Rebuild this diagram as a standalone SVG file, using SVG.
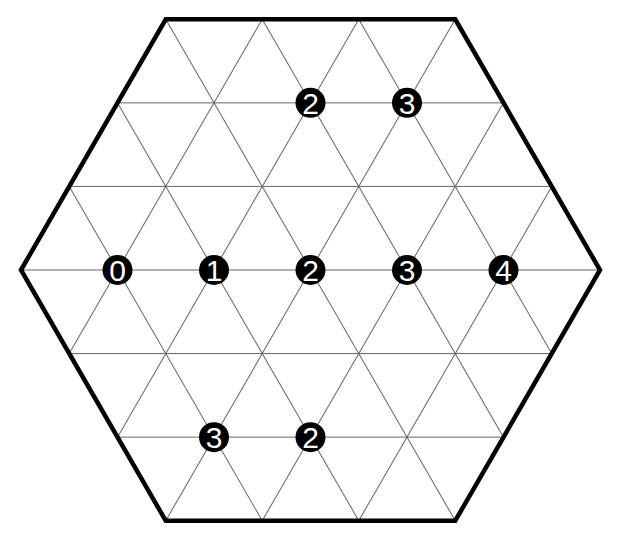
<svg xmlns="http://www.w3.org/2000/svg" width="619" height="542" viewBox="0 0 619 542">
<style>
.border{stroke:#000;stroke-width:4.5;fill:none;stroke-linejoin:miter}
.node circle{fill:#000}
.node text{fill:#fff;font-family:"Liberation Sans",Arial,sans-serif;font-size:30px;text-anchor:middle}
</style>
<defs>
<g id="hset" stroke="#666" stroke-width="1" fill="none">
<line x1="21" y1="270" x2="600" y2="270"/>
<line x1="69.25" y1="186.43" x2="551.75" y2="186.43"/>
<line x1="69.25" y1="353.57" x2="551.75" y2="353.57"/>
<line x1="117.5" y1="102.86" x2="503.5" y2="102.86"/>
<line x1="117.5" y1="437.14" x2="503.5" y2="437.14"/>
</g>
</defs>
<rect width="619" height="542" fill="#fff"/>
<g id="connectors">
<use href="#hset"/>
<use href="#hset" transform="rotate(60 310.5 270)"/>
<use href="#hset" transform="rotate(120 310.5 270)"/>
<polygon class="border" points="21,270 165.75,19.3 455.25,19.3 600,270 455.25,520.7 165.75,520.7"/>
</g>
<g id="n1" class="node"><circle cx="310.5" cy="102.86" r="15"/><text x="310.5" y="113.6">2</text></g>
<g id="n2" class="node"><circle cx="407" cy="102.86" r="15"/><text x="407" y="113.6">3</text></g>
<g id="n3" class="node"><circle cx="117.5" cy="270" r="15"/><text x="117.5" y="280.7">0</text></g>
<g id="n4" class="node"><circle cx="214" cy="270" r="15"/><text x="214" y="280.7">1</text></g>
<g id="n5" class="node"><circle cx="310.5" cy="270" r="15"/><text x="310.5" y="280.7">2</text></g>
<g id="n6" class="node"><circle cx="407" cy="270" r="15"/><text x="407" y="280.7">3</text></g>
<g id="n7" class="node"><circle cx="503.5" cy="270" r="15"/><text x="503.5" y="280.7">4</text></g>
<g id="n8" class="node"><circle cx="214" cy="437.14" r="15"/><text x="214" y="447.9">3</text></g>
<g id="n9" class="node"><circle cx="310.5" cy="437.14" r="15"/><text x="310.5" y="447.9">2</text></g>
</svg>
